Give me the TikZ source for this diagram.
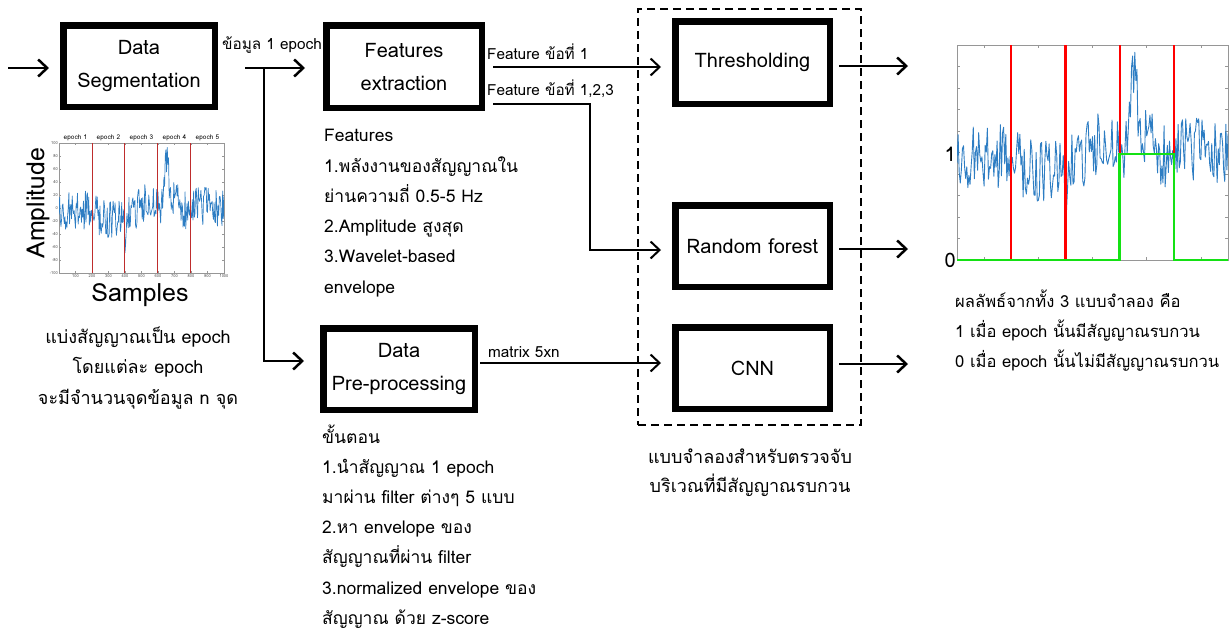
\documentclass[tikz,border=0pt]{standalone}
\usepackage{fontspec}
\setmainfont{Loma}[Script=Thai]
\usetikzlibrary{arrows.meta}
\definecolor{sigblue}{RGB}{45,125,195}
\definecolor{epochred}{RGB}{190,45,45}
\definecolor{markred}{RGB}{255,0,0}
\definecolor{markgreen}{RGB}{20,225,20}
\definecolor{axisgrey}{RGB}{150,150,150}
\begin{document}
\begin{tikzpicture}[x=1pt,y=-1pt,
  declare function={
    g(\u)=exp(0-(min(abs(\u),6))^2);
    sig(\s)=-3-17*g((\s-300)/80)+14*g((\s-540)/50)+70*g((\s-650)/16)
            +25*g((\s-675)/45)-45*g((\s-400)/5)+8*g((\s-900)/80);
  },
  box/.style={draw, line width=6.5pt, inner sep=0pt, align=center,
    font=\fontsize{20}{33}\selectfont},
  conn/.style={line width=2.5pt, -{Straight Barb[length=9pt,width=17pt]}},
  fconn/.style={line width=2pt, -{Straight Barb[length=9pt,width=17pt]}},
  clabel/.style={anchor=base west, inner sep=0pt, font=\fontsize{15.3}{17}\selectfont},
  txt/.style={anchor=base west, inner sep=0pt, font=\fontsize{17.5}{20}\selectfont},
  rtxt/.style={anchor=base west, inner sep=0pt, font=\fontsize{16.6}{20}\selectfont},
  ctxt/.style={anchor=base, inner sep=0pt, font=\fontsize{18}{20}\selectfont},
  tick/.style={axisgrey, line width=0.5pt},
  ticklabel/.style={inner sep=1pt, font=\fontsize{4}{5}\selectfont, text=black!70},
]
\useasboundingbox (0,0) rectangle (1230,637);

% ---------------- processing blocks ----------------
\node[box, minimum width=151.5pt, minimum height=81.5pt] (seg) at (139,66) {Data\\Segmentation};
\node[box, minimum width=155.5pt, minimum height=82.5pt] (feat) at (404,66.5) {Features\\extraction};
\node[box, minimum width=151.5pt, minimum height=81.5pt] (pre) at (399,369) {Data\\Pre-processing};
\node[box, minimum width=154.5pt, minimum height=82.5pt] (thr) at (752.5,62.5) {Thresholding};
\node[box, minimum width=154.5pt, minimum height=81.5pt] (rf) at (752.5,246) {Random forest};
\node[box, minimum width=154.5pt, minimum height=81.5pt] (cnn) at (752.5,368) {CNN};

% dashed frame around the three models
\node[draw, dashed, line width=2pt, dash pattern=on 8pt off 5pt, inner sep=0pt,
      minimum width=223pt, minimum height=416pt] (models) at (749.5,217) {};
\node[ctxt] (cap1) at (750,463) {แบบจำลองสำหรับตรวจจับ};
\node[ctxt] (cap2) at (750,492) {บริเวณที่มีสัญญาณรบกวน};

% ---------------- connectors ----------------
\coordinate (in) at (8,68);
\draw[conn, shorten >=11pt] (in) -- (in -| seg.west);

\coordinate (s0) at (245,68);
\coordinate (j) at (264,68);
\coordinate (jb) at (264,361);
\draw[conn, shorten >=18pt] (s0) -- (s0 -| feat.west);
\draw[conn, shorten >=16pt] (j) -- (jb) -- (jb -| pre.west);
\node[clabel] (lab1) at (222,49) {ข้อมูล 1 epoch};

\coordinate (f1) at (493,67);
\draw[fconn, shorten >=11pt] (f1) -- (f1 -| thr.west);
\node[clabel] (lab2) at (487,59) {Feature ข้อที่ 1};

\coordinate (f3) at (493,104);
\coordinate (f3c) at (590,104);
\coordinate (f3d) at (590,250);
\draw[fconn, shorten >=11pt] (f3) -- (f3c) -- (f3d) -- (f3d -| rf.west);
\node[clabel] (lab3) at (487,95) {Feature ข้อที่ 1,2,3};

\coordinate (m0) at (480,363);
\draw[fconn, shorten >=11pt] (m0) -- (m0 -| cnn.west);
\node[clabel] (lab4) at (488,357) {matrix 5xn};

\coordinate (o1) at (908,66);
\coordinate (o2) at (908,249);
\coordinate (o3) at (908,364);
\draw[conn, shorten <=6pt] (o1 -| thr.east) -- (o1);
\draw[conn, shorten <=6pt] (o2 -| rf.east) -- (o2);
\draw[conn, shorten <=6pt] (o3 -| cnn.east) -- (o3);

% ---------------- text blocks ----------------
\node[txt] (ft0) at (324,141.7) {Features};
\node[txt] (ft1) at (324,172.0) {1.พลังงานของสัญญาณใน};
\node[txt] (ft2) at (324,202.3) {ย่านความถี่ 0.5-5 Hz};
\node[txt] (ft3) at (324,232.6) {2.Amplitude สูงสุด};
\node[txt] (ft4) at (324,262.9) {3.Wavelet-based};
\node[txt] (ft5) at (324,293.2) {envelope};

\node[txt] (pp0) at (322,443.0) {ขั้นตอน};
\node[txt] (pp1) at (322,473.2) {1.นำสัญญาณ 1 epoch};
\node[txt] (pp2) at (322,503.4) {มาผ่าน filter ต่างๆ 5 แบบ};
\node[txt] (pp3) at (322,533.6) {2.หา envelope ของ};
\node[txt] (pp4) at (322,563.8) {สัญญาณที่ผ่าน filter};
\node[txt] (pp5) at (322,594.0) {3.normalized envelope ของ};
\node[txt] (pp6) at (322,624.2) {สัญญาณ ด้วย z-score};

\node[ctxt] (sg0) at (138,343.0) {แบ่งสัญญาณเป็น epoch};
\node[ctxt] (sg1) at (138,373.5) {โดยแต่ละ epoch};
\node[ctxt] (sg2) at (138,404.0) {จะมีจำนวนจุดข้อมูล n จุด};

\node[rtxt] (rs0) at (955,307) {ผลลัพธ์จากทั้ง 3 แบบจำลอง คือ};
\node[rtxt] (rs1) at (955,337) {1 เมื่อ epoch นั้นมีสัญญาณรบกวน};
\node[rtxt] (rs2) at (955,367) {0 เมื่อ epoch นั้นไม่มีสัญญาณรบกวน};

% ---------------- raw signal split into epochs ----------------
\begin{scope}[shift={(59,208)}, x=0.165pt, y=0.65pt]
  \draw[axisgrey, line width=0.6pt] (0,-100) rectangle (1000,100);
  \foreach \v in {-100,-80,...,100} {
    \draw[tick] (0,\v) -- ++(2pt,0pt);
    \draw[tick] (1000,\v) -- ++(-2pt,0pt);
    \node[ticklabel, anchor=east] (yl\v) at (0,\v) {\v};
  }
  \foreach \i in {100,200,...,1000} {
    \draw[tick] (\i,-100) -- ++(0pt,2pt);
    \draw[tick] (\i,100) -- ++(0pt,-2pt);
    \node[ticklabel, anchor=north] (xl\i) at (\i,-100) {\i};
  }
  \begin{scope}
    \clip (0,-100) rectangle (1000,100);
    \pgfmathsetseed{4321}
    \draw[sigblue, line width=0.7pt, line join=round]
      plot[domain=0:1000, samples=251, variable=\t] (\t,{sig(\t)+30*rand});
  \end{scope}
  \foreach \i in {200,400,600,800}
    \draw[epochred, line width=1pt] (\i,-100) -- (\i,100);
  \foreach \k in {1,...,5}
    \node[inner sep=0pt, anchor=base, font=\fontsize{6.5}{8}\selectfont] (ep\k)
      at ({200*\k-100},105) {epoch \k};
\end{scope}
\node[rotate=90, inner sep=0pt, font=\fontsize{25}{30}\selectfont] (amp) at (38,203) {Amplitude};
\node[inner sep=0pt, font=\fontsize{25}{30}\selectfont] (smp) at (140,295) {Samples};

% ---------------- detection result on the same signal ----------------
\begin{scope}[shift={(957,152.5)}, x=0.271pt, y=1.075pt]
  \draw[axisgrey, line width=0.8pt] (0,-100) rectangle (1000,100);
  \foreach \v in {-80,-60,...,80} {
    \draw[tick] (0,\v) -- ++(3pt,0pt);
    \draw[tick] (1000,\v) -- ++(-3pt,0pt);
  }
  \foreach \i in {100,200,...,900} {
    \draw[tick] (\i,-100) -- ++(0pt,3pt);
    \draw[tick] (\i,100) -- ++(0pt,-3pt);
  }
  \begin{scope}
    \clip (0,-100) rectangle (1000,100);
    \pgfmathsetseed{4321}
    \draw[sigblue, line width=0.9pt, line join=round]
      plot[domain=0:1000, samples=251, variable=\t] (\t,{sig(\t)+30*rand});
  \end{scope}
  \foreach \i in {200,400,600,800}
    \draw[markred, line width=2.2pt] (\i,-100) -- (\i,100);
  \draw[markgreen, line width=2.5pt]
    (0,-100) -- (600,-100) -- (600,-1.4) -- (800,-1.4) -- (800,-100) -- (1000,-100);
  \node[anchor=east, inner sep=1pt, font=\fontsize{20}{24}\selectfont] (one) at (0,-1.4) {1};
  \node[anchor=east, inner sep=1pt, font=\fontsize{20}{24}\selectfont] (zero) at (0,-100) {0};
\end{scope}
\end{tikzpicture}
\end{document}
